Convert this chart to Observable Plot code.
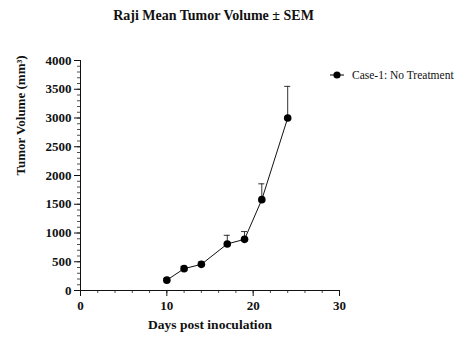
<!DOCTYPE html>
<html>
<head>
<meta charset="utf-8">
<script src="https://cdn.jsdelivr.net/npm/d3@7"></script>
<script src="https://cdn.jsdelivr.net/npm/@observablehq/plot@0.6"></script>
<style>
  body { margin: 0; background: #fff; font-family: "Liberation Serif", "Times New Roman", serif; }
  #wrap { position: relative; width: 469px; height: 362px; }
  #title { position: absolute; left: 0; top: 8px; width: 427px; text-align: center; font-weight: bold; font-size: 14px; color: #111; z-index: 2; }
  #legend { position: absolute; left: 330px; top: 69px; font-size: 11.5px; color: #111; display: flex; align-items: center; z-index: 2; }
  #legend svg { margin-right: 8px; }
  #chart { position: absolute; left: 0; top: 40px; z-index: 1; }
</style>
</head>
<body>
<div id="wrap">
  <div id="title">Raji Mean Tumor Volume ± SEM</div>
  <div id="legend"><svg width="14" height="10"><line x1="0" y1="5" x2="14" y2="5" stroke="#000" stroke-width="1"/><circle cx="7" cy="5" r="3.6" fill="#000"/></svg><span>Case-1: No Treatment</span></div>
  <div id="chart"></div>
</div>
<script>
const seriesName = "Case-1: No Treatment";
const days = [10, 12, 14, 17, 19, 21, 24];
const meanVolume = [180, 380, 455, 810, 890, 1580, 3000];
const semVolume = [30, 40, 40, 150, 135, 275, 550];
const xTicks = [0, 10, 20, 30];
const yTicks = [0, 500, 1000, 1500, 2000, 2500, 3000, 3500, 4000];

const data = days.map((d, i) => ({day: d, mean: meanVolume[i], sem: semVolume[i]}));
const xMinor = d3.range(0, 31, 2);
const yMinor = d3.range(0, 4001, 100);

const fontFamily = '"Liberation Serif", "Times New Roman", serif';

const plot = Plot.plot({
  width: 469,
  height: 322,
  marginLeft: 80,
  marginRight: 130,
  marginTop: 20,
  marginBottom: 72,
  style: {fontFamily, fontSize: "13px", fontWeight: "bold", color: "#111", background: "transparent"},
  x: {domain: [0, 30], axis: null, label: null},
  y: {domain: [0, 4000], axis: null, label: null},
  marks: [
    Plot.axisY(yMinor, {tickSize: 3, text: null, label: null, stroke: "#222", strokeWidth: 0.8}),
    Plot.axisY(yTicks, {tickSize: 6, tickPadding: 3, tickFormat: d => String(d), stroke: "#111", strokeWidth: 1, fontSize: 13, fontWeight: "bold", label: null}),
    Plot.axisX(xMinor, {tickSize: 3, text: null, label: null, stroke: "#222", strokeWidth: 0.8}),
    Plot.axisX(xTicks, {tickSize: 6, tickPadding: 4, tickFormat: d => String(d), stroke: "#111", strokeWidth: 1, fontSize: 13, fontWeight: "bold", label: null}),
    Plot.ruleX([0], {y1: 0, y2: 4000, stroke: "#111", strokeWidth: 1}),
    Plot.ruleY([0], {x1: 0, x2: 30, stroke: "#111", strokeWidth: 1}),
    Plot.ruleX(data, {x: "day", y1: "mean", y2: d => d.mean + d.sem, stroke: "#333", strokeWidth: 1}),
    Plot.ruleY(data, {y: d => d.mean + d.sem, x1: d => d.day - 0.35, x2: d => d.day + 0.35, stroke: "#333", strokeWidth: 1}),
    Plot.line(data, {x: "day", y: "mean", stroke: "#111", strokeWidth: 1}),
    Plot.dot(data, {x: "day", y: "mean", r: 3.8, fill: "#000", stroke: "none"}),
    Plot.text(["Tumor Volume (mm³)"], {frameAnchor: "left", dx: -60, rotate: -90, fontSize: 13, fontWeight: "bold", fill: "#111"}),
    Plot.text(["Days post inoculation"], {frameAnchor: "bottom", dy: 38, fontSize: 13.5, fontWeight: "bold", fill: "#111"})
  ]
});
document.getElementById("chart").appendChild(plot);
</script>
</body>
</html>
